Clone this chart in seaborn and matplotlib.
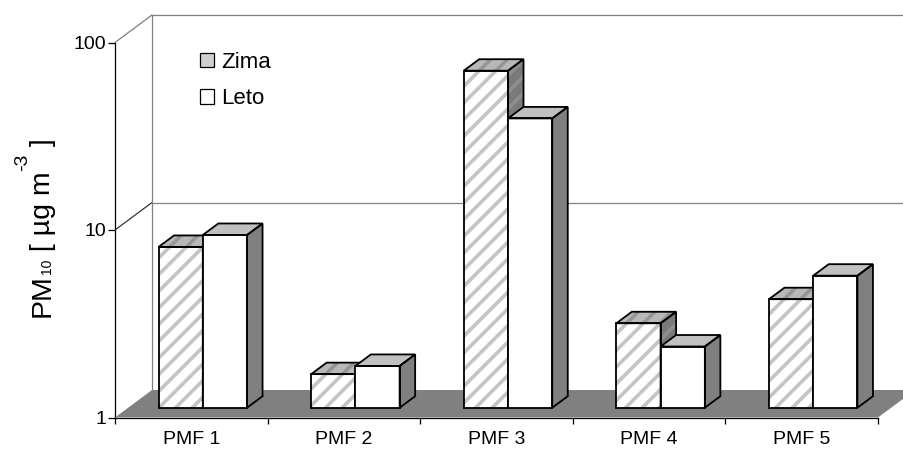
import numpy as np
import pandas as pd
import matplotlib
matplotlib.use("Agg")
import matplotlib.pyplot as plt
import seaborn as sns
from matplotlib import font_manager
from matplotlib.patches import Polygon, Patch
from matplotlib.lines import Line2D
from matplotlib.transforms import IdentityTransform
from matplotlib.ticker import FixedLocator, NullLocator

# ---- data -------------------------------------------------------------
categories = ["PMF 1", "PMF 2", "PMF 3", "PMF 4", "PMF 5"]
seasons = ["Zima", "Leto"]
zima = [7.2, 1.51, 62.7, 2.82, 3.79]
leto = [8.34, 1.67, 34.9, 2.12, 5.06]
y_ticks = [1, 10, 100]
y_tick_labels = ["1", "10", "100"]
# axis title pieces: (text, size in pt, baseline shift in px towards the left)
y_label_parts = [("PM", 20.5, 0), ("10", 10, -1), (" [ µg m", 20.5, 0),
                 ("-3", 14, 23), (" ]", 20.5, 0)]

df = pd.DataFrame({
    "factor": categories * 2,
    "season": ["Zima"] * len(zima) + ["Leto"] * len(leto),
    "value": zima + leto,
})

# ---- style ------------------------------------------------------------
sns.set_theme(style="white")
installed = {f.name for f in font_manager.fontManager.ttflist}
family = [f for f in ["Liberation Sans", "DejaVu Sans"] if f in installed]
plt.rcParams["font.family"] = family
plt.rcParams["hatch.linewidth"] = 2.6

W, H, DPI = 904, 450, 100
fig = plt.figure(figsize=(W / DPI, H / DPI), dpi=DPI)
fig.patch.set_facecolor("white")

# front plane of the 3-D box
ax = fig.add_axes([115 / W, (H - 417.5) / H, 763 / W, 375 / H])
ax.set_facecolor("none")

sns.barplot(data=df, x="factor", y="value", hue="season", order=categories,
            hue_order=seasons, width=0.58, palette=["white", "white"],
            linewidth=0, legend=False, ax=ax)
ax.set_yscale("log")
ax.set_ylim(1, 100)
ax.set_xlim(-0.5, len(categories) - 0.5)

# depth vectors (pixels, up is positive)
WALL = np.array([37.0, 27.5])      # full depth of the box
FRONT = np.array([11.5, 9.8])      # where the bar fronts sit
BAR = np.array([15.5, 11.5])       # thickness of each bar

GRID = "#808080"


def disp(x, y):
    return ax.transData.transform((x, y))


def poly(pts, **kw):
    p = Polygon(np.asarray(pts), closed=True, transform=IdentityTransform(),
                clip_on=False, **kw)
    fig.add_artist(p)
    return p


def seg(a, b, **kw):
    a, b = np.asarray(a), np.asarray(b)
    fig.add_artist(Line2D([a[0], b[0]], [a[1], b[1]], transform=IdentityTransform(), **kw))


# ---- walls and floor --------------------------------------------------
x_lo, x_hi = ax.get_xlim()
for v, col in [(100, GRID), (10, "#333333")]:
    p0 = disp(x_lo, v)
    seg(p0, p0 + WALL, color=col, lw=0.9, zorder=0.5)
    seg(p0 + WALL, disp(x_hi, v) + WALL, color=GRID, lw=0.9, zorder=0.5)
seg(disp(x_lo, 1) + WALL, disp(x_lo, 100) + WALL, color=GRID, lw=0.9, zorder=0.5)

f0, f1 = disp(x_lo, 1), disp(x_hi, 1)
poly([f0, f1, f1 + WALL, f0 + WALL], facecolor="#808080", edgecolor="none", zorder=1)

# ---- 3-D bars built from the seaborn rectangles -----------------------
bars = [p for p in ax.patches]
n = len(categories)
for i, rect in enumerate(bars):
    is_zima = i < n
    x0 = rect.get_x()
    x1 = x0 + rect.get_width()
    top = rect.get_y() + rect.get_height()
    rect.set_visible(False)

    bl = disp(x0, 1) + FRONT
    br = disp(x1, 1) + FRONT
    tl = disp(x0, top) + FRONT
    tr = disp(x1, top) + FRONT
    z = 3 if is_zima else 4

    if is_zima:
        poly([bl, br, tr, tl], facecolor="white", edgecolor="#c4c4c4",
             hatch="//", lw=0, zorder=z)
        poly([tl, tr, tr + BAR, tl + BAR], facecolor="#b8b8b8", edgecolor="#969696",
             hatch="//", lw=0, zorder=z)
        poly([br, tr, tr + BAR, br + BAR], facecolor="#7a7a7a", edgecolor="#8e8e8e",
             hatch="//", lw=0, zorder=z)
    else:
        poly([bl, br, tr, tl], facecolor="white", edgecolor="none", zorder=z)
        poly([tl, tr, tr + BAR, tl + BAR], facecolor="#c0c0c0", edgecolor="none", zorder=z)
        poly([br, tr, tr + BAR, br + BAR], facecolor="#808080", edgecolor="none", zorder=z)

    for pts in ([bl, br, tr, tl], [tl, tr, tr + BAR, tl + BAR], [br, tr, tr + BAR, br + BAR]):
        poly(pts, facecolor="none", edgecolor="black", lw=1.3, joinstyle="miter", zorder=z + 0.01)

# ---- axes -------------------------------------------------------------
for s in ["top", "right"]:
    ax.spines[s].set_visible(False)
for s in ["left", "bottom"]:
    ax.spines[s].set_color("black")
    ax.spines[s].set_linewidth(0.9)
    ax.spines[s].set_zorder(2)

ax.yaxis.set_major_locator(FixedLocator(y_ticks))
ax.yaxis.set_minor_locator(NullLocator())
ax.set_yticklabels(y_tick_labels)
ax.set_xticks(range(n))
ax.set_xticklabels(categories)
ax.set_xticks(np.arange(-0.5, n, 1.0), minor=True)
ax.tick_params(axis="y", which="major", direction="out", length=5, width=0.9,
               color="black", labelsize=14, pad=1.5, left=True)
ax.tick_params(axis="x", which="major", length=0, labelsize=14, pad=9.5)
ax.tick_params(axis="x", which="minor", direction="out", length=4, width=0.9,
               color="black", bottom=True)
for lab in ax.get_xticklabels() + ax.get_yticklabels():
    lab.set_color("black")
ax.set_xlabel("")
ax.set_ylabel("")

# vertical axis title, written piece by piece (small subscript / superscript)
renderer = fig.canvas.get_renderer()
base_x, y_pos = 50.0, H - 317.0
for text, size, lift in y_label_parts:
    t = fig.text(base_x - lift, y_pos, text, rotation=90, rotation_mode="anchor",
                 ha="left", va="baseline", fontsize=size, color="black",
                 transform=IdentityTransform())
    y_pos = t.get_window_extent(renderer).y1

handles = [Patch(facecolor="#d0d0d0", edgecolor="black", lw=0.9, label="Zima"),
           Patch(facecolor="white", edgecolor="black", lw=0.9, label="Leto")]
leg = ax.legend(handles=handles, loc="upper left", bbox_to_anchor=(0.112, 0.975),
                frameon=False, fontsize=16, handlelength=0.62, handleheight=0.62,
                handletextpad=0.3, labelspacing=0.7, borderpad=0, borderaxespad=0)
for t in leg.get_texts():
    t.set_color("black")

fig.savefig("out.png", dpi=DPI)
